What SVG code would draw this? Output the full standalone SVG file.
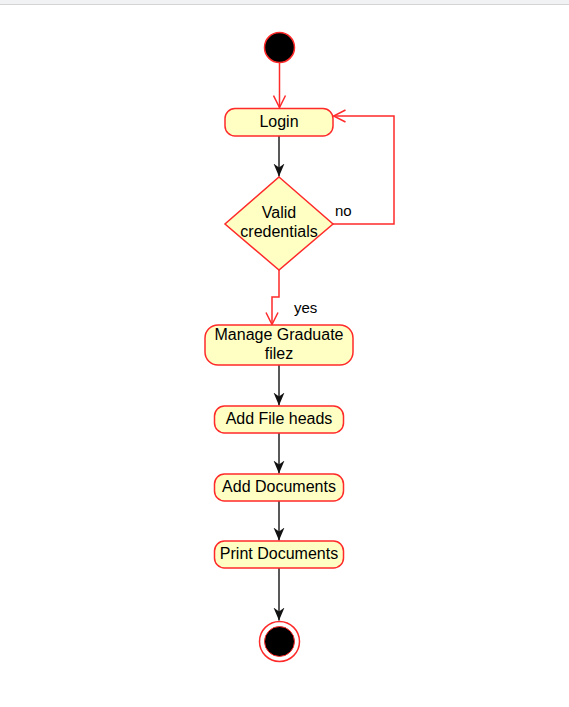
<svg xmlns="http://www.w3.org/2000/svg" width="569" height="707" viewBox="0 0 569 707">
  <style>
    .act { fill: #ffffc4; stroke: #ff2a2a; stroke-width: 1.5; }
    .lbl { font-family: "Liberation Sans", Arial, sans-serif; font-size: 16px; fill: #000; text-anchor: middle; }
    .guard { font-family: "Liberation Sans", Arial, sans-serif; font-size: 15px; fill: #000; }
    .flow-red { fill: none; stroke: #ff2a2a; stroke-width: 1.5; }
    .flow-dark { fill: none; stroke: #222; stroke-width: 1.5; }
  </style>
  <defs>
    <marker id="openRed" markerUnits="userSpaceOnUse" markerWidth="14" markerHeight="14" viewBox="0 0 14 14" refX="13" refY="7" orient="auto">
      <path d="M1,1 L13,7 L1,13" fill="none" stroke="#ff2a2a" stroke-width="1.5"/>
    </marker>
    <marker id="solidDark" markerUnits="userSpaceOnUse" markerWidth="14" markerHeight="12" viewBox="0 0 14 12" refX="13" refY="6" orient="auto">
      <path d="M0,0.5 L13,6 L0,11.5 L4,6 z" fill="#111"/>
    </marker>
  </defs>

  <!-- page header strip -->
  <rect x="0" y="0" width="569" height="4" fill="#f1f2f4"/>
  <line x1="0" y1="4.5" x2="569" y2="4.5" stroke="#d4d4d4" stroke-width="1"/>

  <g id="connectors">
    <line class="flow-red" x1="279.5" y1="63" x2="279.5" y2="107.5" marker-end="url(#openRed)"/>
    <line class="flow-dark" x1="279" y1="136" x2="279" y2="176.5" marker-end="url(#solidDark)"/>
    <polyline class="flow-red" points="333,224 394,224 394,116 333.5,116" marker-end="url(#openRed)"/>
    <polyline class="flow-red" points="279,270 279,297 272,297 272,324.5" marker-end="url(#openRed)"/>
    <line class="flow-dark" x1="279" y1="365" x2="279" y2="405.5" marker-end="url(#solidDark)"/>
    <line class="flow-dark" x1="279" y1="433" x2="279" y2="473.5" marker-end="url(#solidDark)"/>
    <line class="flow-dark" x1="279" y1="501" x2="279" y2="540.5" marker-end="url(#solidDark)"/>
    <line class="flow-dark" x1="279" y1="568" x2="279" y2="620.5" marker-end="url(#solidDark)"/>
    <text class="guard" x="335" y="216">no</text>
    <text class="guard" x="294" y="313">yes</text>
  </g>

  <g id="start">
    <circle cx="279.5" cy="47.5" r="15" fill="#000" stroke="#ff2a2a" stroke-width="1.5"/>
  </g>

  <g id="login">
    <rect class="act" x="225" y="108.5" width="108" height="27.5" rx="10"/>
    <text class="lbl" x="279" y="127">Login</text>
  </g>

  <g id="valid-credentials">
    <polygon class="act" points="279,177 333,224 279,270 225,224"/>
    <text class="lbl" x="279" y="218">Valid</text>
    <text class="lbl" x="279" y="237">credentials</text>
  </g>

  <g id="manage-graduate-filez">
    <rect class="act" x="205" y="325" width="148" height="40" rx="13"/>
    <text class="lbl" x="279" y="340">Manage Graduate</text>
    <text class="lbl" x="279" y="359">filez</text>
  </g>

  <g id="add-file-heads">
    <rect class="act" x="214.5" y="406" width="129" height="27" rx="10"/>
    <text class="lbl" x="279" y="424">Add File heads</text>
  </g>

  <g id="add-documents">
    <rect class="act" x="214.5" y="474" width="129" height="27" rx="10"/>
    <text class="lbl" x="279" y="492">Add Documents</text>
  </g>

  <g id="print-documents">
    <rect class="act" x="214.5" y="541" width="129" height="27" rx="10"/>
    <text class="lbl" x="279" y="559">Print Documents</text>
  </g>

  <g id="end">
    <circle cx="279.5" cy="641.5" r="20" fill="#fff" stroke="#ff2a2a" stroke-width="1.5"/>
    <circle cx="279.5" cy="641.5" r="15" fill="#000" stroke="#ff2a2a" stroke-width="1"/>
  </g>
</svg>
